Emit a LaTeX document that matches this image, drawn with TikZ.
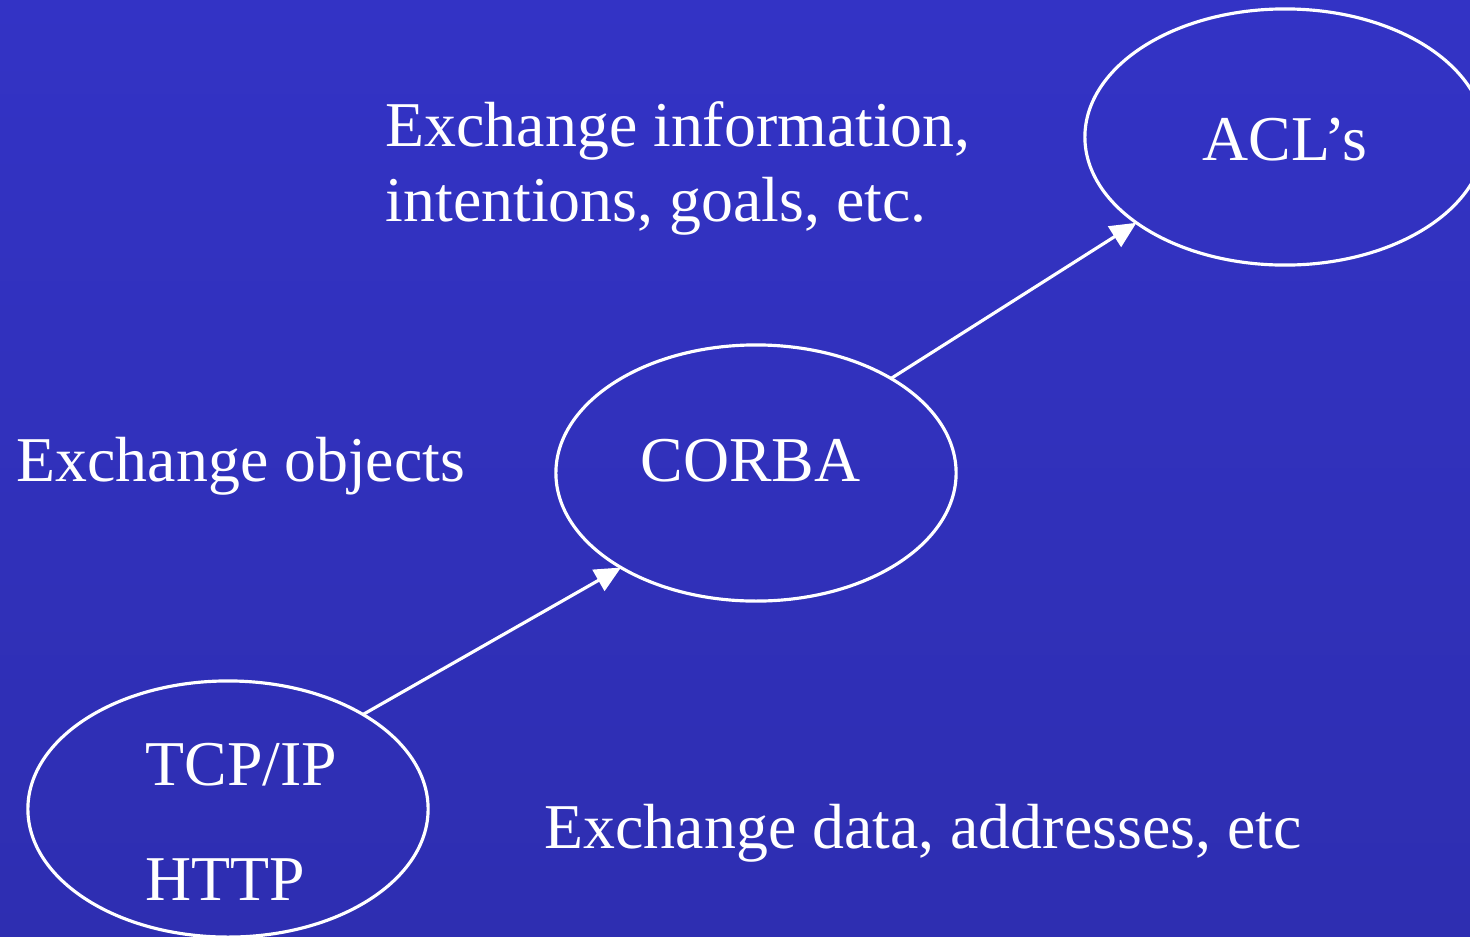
\documentclass[tikz,border=0pt]{standalone}
\usepackage{fontspec}
\setmainfont{Liberation Serif}
\definecolor{slidetop}{RGB}{51,51,197}
\definecolor{slidebot}{RGB}{46,46,177}
\usepackage{tikz}
\usetikzlibrary{arrows.meta,shapes.geometric}

\begin{document}
\begin{tikzpicture}[x=0.01cm, y=-0.01cm,
    layer/.style={draw=white, line width=0.9pt, ellipse, minimum width=4cm,
      minimum height=2.56cm, inner sep=0pt, outer sep=0pt},
    txt/.style={text=white, anchor=base west, inner sep=0pt,
      font=\fontsize{18.15}{21.3}\selectfont},
    up/.style={draw=white, line width=0.9pt, -{Triangle[length=0.26cm,width=0.24cm]}}]
  %% 1. Background
  \shade[top color=slidetop, bottom color=slidebot] (0,0) rectangle (1470,936);
  \useasboundingbox (0,0) rectangle (1470,936);
  %% 2. Layers
  \node[layer] (acl) at (1285,137) {};
  \node[layer] (corba) at (756,473) {};
  \node[layer] (tcp) at (228,809) {};
  %% 3. Labels
  \node[txt] (acltxt) at (1202,160) {ACL’s};
  \node[txt] (corbatxt) at (640,481) {CORBA};
  \node[txt] (tcptxt) at (145,785) {TCP/IP};
  \node[txt] (httptxt) at (145,900) {HTTP};
  \node[txt, align=left] (goals) at (385,221) {Exchange information,\\intentions, goals, etc.};
  \node[txt] (objects) at (16,481) {Exchange objects};
  \node[txt] (data) at (544,848) {Exchange data, addresses, etc};
  %% 4. Arrows
  \draw[up] (tcp.35) -- (corba.215);
  \draw[up] (corba.35) -- (acl.210);
\end{tikzpicture}
\end{document}
